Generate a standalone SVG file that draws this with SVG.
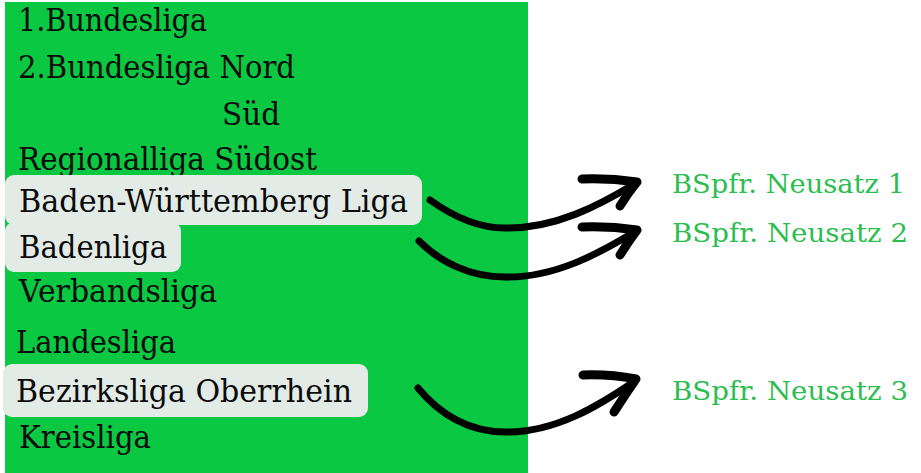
<svg xmlns="http://www.w3.org/2000/svg" width="921" height="473" viewBox="0 0 921 473">
<style>
.lg{font-family:"DejaVu Serif","Liberation Serif",serif;font-size:32px;fill:#0b0b0b}
.tm{font-family:"DejaVu Serif","Liberation Serif",serif;font-size:26px;fill:#2cbd4f}
.hl{fill:#e3ebe6}
.arr{fill:none;stroke:#000;stroke-width:7;stroke-linecap:round;stroke-linejoin:round}
.head{fill:none;stroke:#000;stroke-width:9;stroke-linecap:round;stroke-linejoin:round}
</style>
<rect x="0" y="0" width="921" height="473" fill="#ffffff"/>
<rect id="panel" x="5" y="2" width="523" height="471" fill="#0ac841"/>
<g id="leagues">
<g id="l1"><text class="lg" x="18" y="31" textLength="189" lengthAdjust="spacingAndGlyphs">1.Bundesliga</text></g>
<g id="l2"><text class="lg" x="18" y="78" textLength="277" lengthAdjust="spacingAndGlyphs">2.Bundesliga Nord</text></g>
<g id="l2s"><text class="lg" x="222" y="125" textLength="58" lengthAdjust="spacingAndGlyphs">Süd</text></g>
<g id="l3"><text class="lg" x="18" y="170" textLength="299" lengthAdjust="spacingAndGlyphs">Regionalliga Südost</text></g>
<g id="l4"><rect class="hl" x="5" y="175" width="417" height="50" rx="9"/><text class="lg" x="19" y="212" textLength="389" lengthAdjust="spacingAndGlyphs">Baden-Württemberg Liga</text></g>
<g id="l5"><rect class="hl" x="5" y="222" width="176" height="50" rx="9"/><text class="lg" x="19" y="258" textLength="148" lengthAdjust="spacingAndGlyphs">Badenliga</text></g>
<g id="l6"><text class="lg" x="19" y="302" textLength="198" lengthAdjust="spacingAndGlyphs">Verbandsliga</text></g>
<g id="l7"><text class="lg" x="16" y="353" textLength="160" lengthAdjust="spacingAndGlyphs">Landesliga</text></g>
<g id="l8"><rect class="hl" x="3" y="364" width="365" height="53" rx="9"/><text class="lg" x="16" y="402" textLength="336" lengthAdjust="spacingAndGlyphs">Bezirksliga Oberrhein</text></g>
<g id="l9"><text class="lg" x="19" y="448" textLength="132" lengthAdjust="spacingAndGlyphs">Kreisliga</text></g>
</g>
<g id="teams">
<g id="t1"><text class="tm" x="672" y="193" textLength="233" lengthAdjust="spacingAndGlyphs">BSpfr. Neusatz 1</text></g>
<g id="t2"><text class="tm" x="672" y="242" textLength="236" lengthAdjust="spacingAndGlyphs">BSpfr. Neusatz 2</text></g>
<g id="t3"><text class="tm" x="672" y="400" textLength="236" lengthAdjust="spacingAndGlyphs">BSpfr. Neusatz 3</text></g>
</g>
<g id="connectors">
<path class="arr" d="M430,200 C455,218 480,228 505,228 C555,229 600,205 636,183"/>
<path class="head" d="M582,179 Q610,178 637,182 Q628,193 620,206"/>
<path class="arr" d="M419,241 C440,262 470,277 505,277 C555,278 600,253 636,231"/>
<path class="head" d="M582,227 Q610,226 637,230 Q628,242 620,255"/>
<path class="arr" d="M418,388 C440,415 470,432 505,432 C555,433 600,405 635,381"/>
<path class="head" d="M583,375 Q610,374 636,379 Q625,395 614,412"/>
</g>
</svg>
